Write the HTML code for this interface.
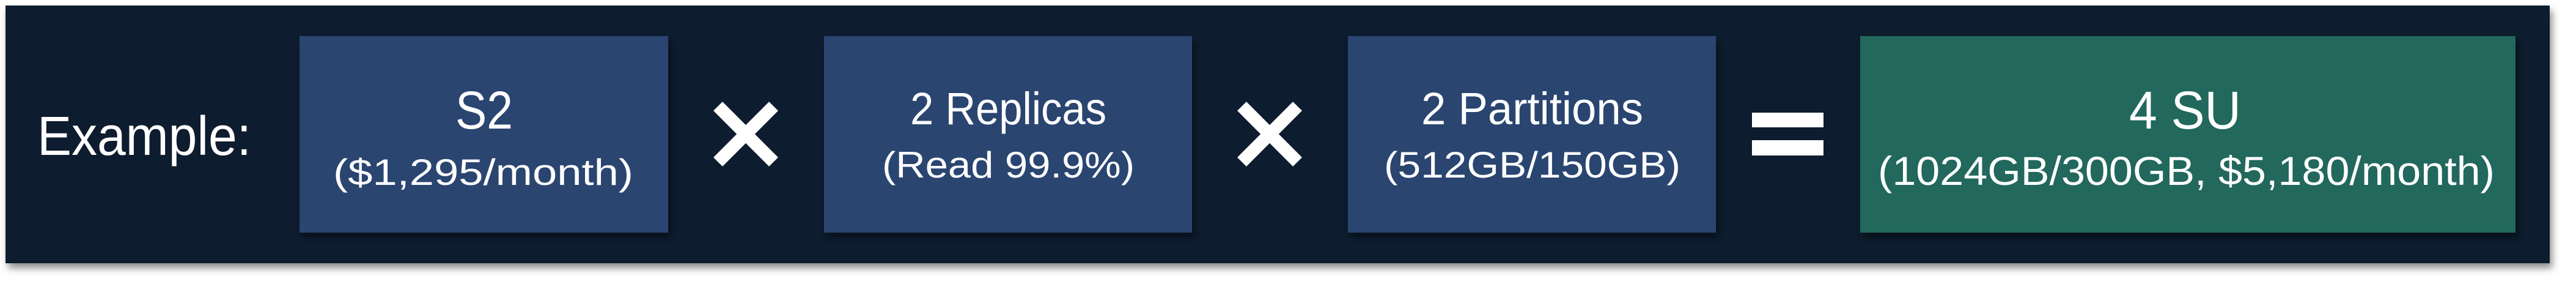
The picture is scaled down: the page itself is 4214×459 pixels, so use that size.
<!DOCTYPE html>
<html><head><meta charset="utf-8"><style>
html,body{margin:0;padding:0;background:#fff;width:4214px;height:459px;overflow:hidden}
svg{display:block}
text{font-family:"Liberation Sans",sans-serif;fill:#fff}
</style></head><body>
<svg width="4214" height="459" viewBox="0 0 4214 459">
<defs>
<filter id="sh" x="-5%" y="-5%" width="110%" height="130%"><feDropShadow dx="4" dy="8" stdDeviation="6" flood-color="#000" flood-opacity="0.45"/></filter>
</defs>
<rect x="9" y="9" width="4162" height="421" fill="#0b1f2d" filter="url(#sh)"/>
<text x="61" y="253" font-size="90" textLength="350" lengthAdjust="spacingAndGlyphs">Example:</text>

<g>
<rect x="490" y="59" width="603" height="321" fill="#2c4570" filter="url(#sh)"/>
<text x="745" y="210" font-size="87" textLength="94" lengthAdjust="spacingAndGlyphs">S2</text>
<text x="545" y="302" font-size="60" textLength="491" lengthAdjust="spacingAndGlyphs">($1,295/month)</text>
</g>
<g stroke="#fff" stroke-width="21">
<line x1="1174.5" y1="173.5" x2="1265.5" y2="264.5"/>
<line x1="1265.5" y1="173.5" x2="1174.5" y2="264.5"/>
</g>

<g>
<rect x="1348" y="59" width="602" height="321" fill="#2c4570" filter="url(#sh)"/>
<text x="1489" y="203" font-size="74" textLength="321" lengthAdjust="spacingAndGlyphs">2 Replicas</text>
<text x="1443" y="290" font-size="60" textLength="413" lengthAdjust="spacingAndGlyphs">(Read 99.9%)</text>
</g>
<g stroke="#fff" stroke-width="21">
<line x1="2031.5" y1="173.5" x2="2122.5" y2="264.5"/>
<line x1="2122.5" y1="173.5" x2="2031.5" y2="264.5"/>
</g>

<g>
<rect x="2205" y="59" width="602" height="321" fill="#2c4570" filter="url(#sh)"/>
<text x="2325" y="203" font-size="74" textLength="363" lengthAdjust="spacingAndGlyphs">2 Partitions</text>
<text x="2264" y="290" font-size="60" textLength="485" lengthAdjust="spacingAndGlyphs">(512GB/150GB)</text>
</g>
<g>
<rect x="2866" y="184" width="117" height="24" fill="#fff"/>
<rect x="2866" y="229" width="117" height="25" fill="#fff"/>
</g>

<g>
<rect x="3043" y="59" width="1072" height="321" fill="#22675c" filter="url(#sh)"/>
<text x="3483" y="210" font-size="87" textLength="183" lengthAdjust="spacingAndGlyphs">4 SU</text>
<text x="3072" y="302" font-size="66" textLength="1009" lengthAdjust="spacingAndGlyphs">(1024GB/300GB, $5,180/month)</text>
</g>
</svg>
</body></html>
